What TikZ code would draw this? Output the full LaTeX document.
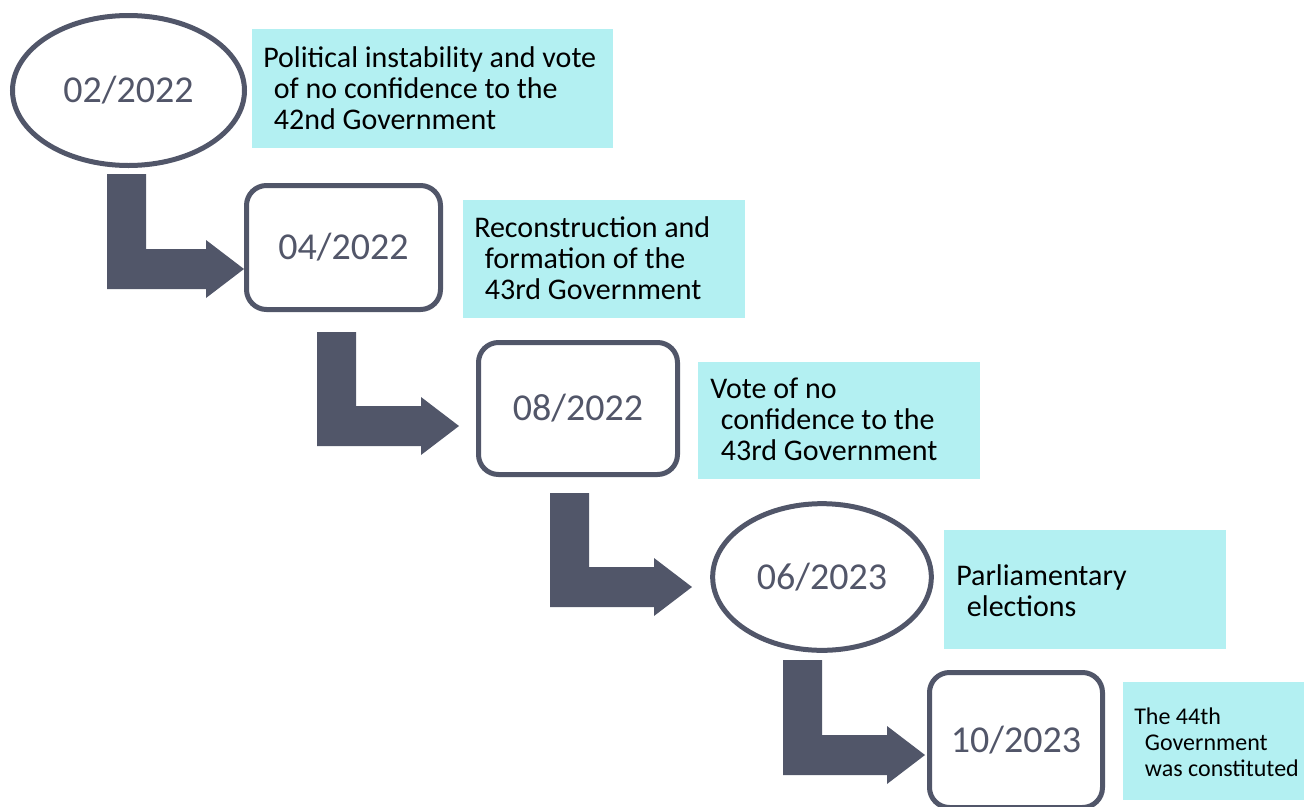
\documentclass[tikz,border=0pt]{standalone}
\usepackage{fontspec}
\setmainfont{Carlito}
\usetikzlibrary{shapes.geometric}
\definecolor{slate}{HTML}{515669}
\definecolor{datec}{HTML}{525669}
\definecolor{aqua}{HTML}{B3F0F2}
\tikzset{
  datefont/.style={font=\fontsize{28.5pt}{34pt}\selectfont, text=datec},
  ovalnode/.style={ellipse, draw=slate, line width=3.75pt, fill=white, inner sep=0pt, datefont},
  roundbox/.style={rectangle, rounded corners=15pt, draw=slate, line width=3.75pt, fill=white, inner sep=0pt, datefont},
  notetext/.style={anchor=west, align=left, inner sep=0pt, font=\fontsize{22.5pt}{23.25pt}\selectfont, text=black},
  smalltext/.style={anchor=west, align=left, inner sep=0pt, font=\fontsize{18pt}{19.5pt}\selectfont, text=black},
  arrowfill/.style={fill=slate}
}
% #1 x left of shaft, #2 top y, #3 centre y of horizontal arm, #4 tip x
\newcommand{\bentarr}[4]{%
  \fill[arrowfill] (#1,#2) -- ++(39,0) |- ({#4-38},{#3-20}) -- ({#4-38},{#3-29}) -- (#4,#3)
     -- ({#4-38},{#3+29}) -- ({#4-38},{#3+20}) -- (#1,{#3+20}) -- cycle;}
\begin{document}
\begin{tikzpicture}[x=0.75pt,y=-0.75pt]
\useasboundingbox (0,0) rectangle (1304,807);

% note boxes
\fill[aqua] (252,29) rectangle (613,148);
\fill[aqua] (463,200) rectangle (745,318);
\fill[aqua] (698,362) rectangle (980,479);
\fill[aqua] (944,530) rectangle (1226,649);
\fill[aqua] (1123,682) rectangle (1304,800);

\node[notetext] (t1) at (263,88) {Political instability and vote\\\hspace*{8pt}of no confidence to the\\\hspace*{8pt}42nd Government};
\node[notetext] (t2) at (474,258.5) {Reconstruction and\\\hspace*{8pt}formation of the\\\hspace*{8pt}43rd Government};
\node[notetext] (t3) at (710,419) {Vote of no\\\hspace*{8pt}confidence to the\\\hspace*{8pt}43rd Government};
\node[notetext] (t4) at (956,591) {Parliamentary\\\hspace*{8pt}elections};
\node[smalltext] (t5) at (1134,742) {The 44th\\\hspace*{8pt}Government\\\hspace*{8pt}was constituted};

% bent arrows
\bentarr{107}{174}{269}{244}
\bentarr{317}{332}{426}{459}
\bentarr{550}{493}{587}{692}
\bentarr{783}{660}{755}{925}

% date nodes
\node[ovalnode, minimum width=174pt, minimum height=112.5pt] (d1) at (128.5,90.5) {02/2022};
\node[roundbox, minimum width=145.5pt, minimum height=93pt] (d2) at (343.5,247.5) {04/2022};
\node[roundbox, minimum width=149.25pt, minimum height=99pt] (d3) at (578,408.5) {08/2022};
\node[ovalnode, minimum width=164pt, minimum height=110pt] (d4) at (822,577) {06/2023};
\node[roundbox, minimum width=129.75pt, minimum height=101.25pt] (d5) at (1016,740) {10/2023};
\end{tikzpicture}
\end{document}
